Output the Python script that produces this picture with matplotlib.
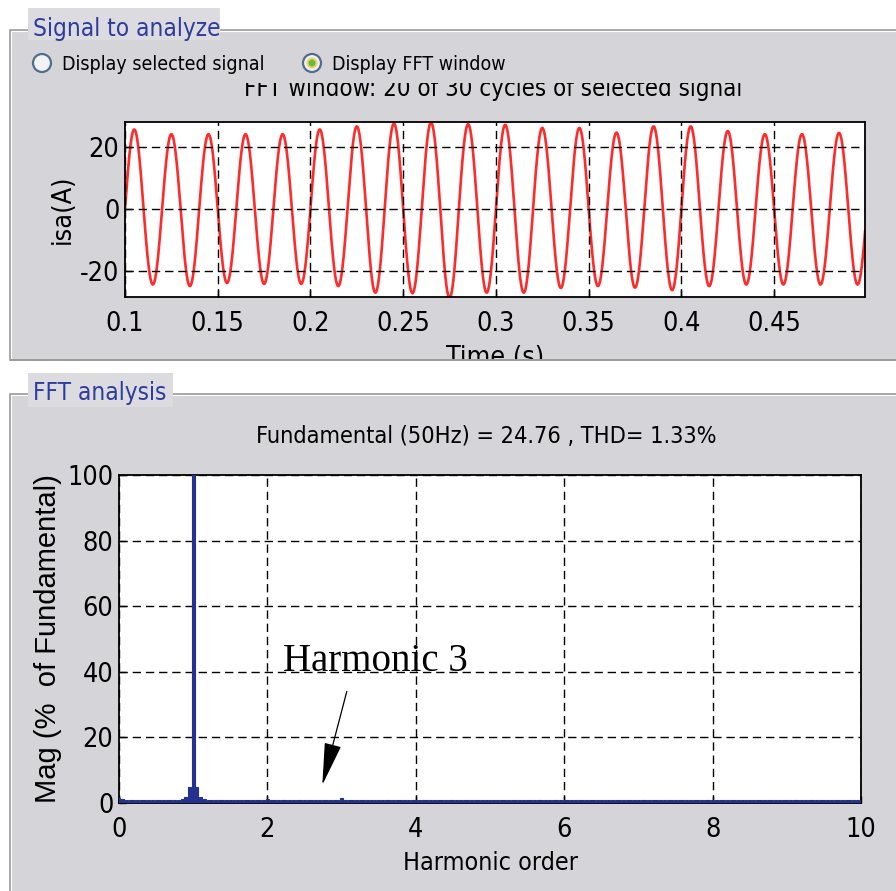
import numpy as np
import matplotlib
matplotlib.use("Agg")
import matplotlib.pyplot as plt
from matplotlib.patches import Rectangle, Circle
from matplotlib import font_manager as fm

# ---- data ----
f0 = 50.0
t_start, t_end = 0.1, 0.5
# per-cycle positive peaks and negative troughs of isa (A), 20 cycles
pos_peaks = [25.5, 24.0, 24.0, 24.0, 24.0, 25.5, 26.5, 27.4, 27.7, 27.2,
             27.0, 26.0, 26.0, 24.5, 26.5, 26.5, 25.0, 24.0, 24.0, 24.4]
neg_peaks = [-24.2, -24.7, -23.7, -24.0, -24.0, -24.7, -26.8, -27.0, -28.5, -26.8,
             -26.8, -25.3, -24.7, -25.2, -26.0, -24.7, -24.2, -24.2, -24.2, -24.2]
time_ticks = [0.1, 0.15, 0.2, 0.25, 0.3, 0.35, 0.4, 0.45]
isa_ticks = [-20, 0, 20]

# spectrum (% of fundamental), bins every 0.05 harmonic order
bin_step = 0.05
floor_mag = 0.8
peak_orders = [0.0, 0.05, 0.85, 0.9, 0.95, 1.0, 1.05, 1.1, 1.15, 2.0, 2.95, 3.0, 3.05]
peak_mags = [1.6, 1.1, 1.2, 1.9, 4.8, 100.0, 4.8, 1.9, 1.2, 1.1, 1.0, 1.6, 1.0]
harm_ticks = [0, 2, 4, 6, 8, 10]
mag_ticks = [0, 20, 40, 60, 80, 100]

title_top = "FFT window: 20 of 30 cycles of selected signal"
title_bot = "Fundamental (50Hz) = 24.76 , THD= 1.33%"

# ---- fonts: want a narrow Arial-like face ----
narrow_path = None
scale = 1.0
fonts = [f for f in fm.fontManager.ttflist if f.style == "normal" and f.weight in (400, "normal", "regular")]
for f in fonts:
    if f.name == "Liberation Sans Narrow":
        narrow_path = f.fname
        break
if narrow_path is None:
    for f in fonts:
        if f.name.startswith("DejaVu Sans") and ("Condensed" in f.name or str(f.stretch) in ("condensed", "semi-condensed")) and "Mono" not in f.name:
            narrow_path = f.fname
            scale = 0.92
            break
if narrow_path is None:
    narrow_path = fm.findfont(fm.FontProperties(family="Liberation Sans"))
    scale = 0.85


def nf(size):
    return fm.FontProperties(fname=narrow_path, size=size * scale)


# ---- figure ----
W, H = 896, 891
fig = plt.figure(figsize=(W / 100, H / 100), dpi=100, facecolor="white")
T = fig.dpi_scale_trans
SANS = ["Liberation Sans", "DejaVu Sans"]
GRAY = "#d5d5d9"
LIGHT = "#dcdce0"
BLUE = "#2d3d9c"


def P(x, y):
    return (x / 100, (H - y) / 100)


def rect(x0, y0, x1, y1, **kw):
    r = Rectangle(P(x0, y1), (x1 - x0) / 100, (y1 - y0) / 100, transform=T, **kw)
    fig.add_artist(r)
    return r


def ftext(x, y, s, **kw):
    return fig.text(*P(x, y), s, transform=T, **kw)


# group boxes
rect(10, 30, 900, 360, fc=GRAY, ec="#9c9c9c", lw=1.2, zorder=-2)
rect(11, 31, 900, 359, fc="none", ec="white", lw=0.8, zorder=-1)
rect(10, 394, 900, 900, fc=GRAY, ec="#9c9c9c", lw=1.2, zorder=-2)
rect(11, 395, 900, 900, fc="none", ec="white", lw=0.8, zorder=-1)

# ---- top axes ----
ax1 = fig.add_axes([125 / W, 1 - 297 / H, 740 / W, 175 / H])
t = np.linspace(t_start, t_end, 8001)
ph = np.sin(2 * np.pi * f0 * (t - t_start))
k = np.clip(((t - t_start) * f0).astype(int), 0, len(pos_peaks) - 1)
isa = np.where(ph >= 0, ph * np.array(pos_peaks)[k], -ph * np.array(neg_peaks)[k])
ax1.plot(t, isa, color="#ff2a2a", lw=1.9)
ax1.set_xlim(0.1, 0.499)
ax1.set_ylim(-28.2, 27.9)
ax1.set_xticks(time_ticks)
ax1.set_xticklabels([f"{v:g}" for v in time_ticks])
ax1.set_yticks(isa_ticks)
ax1.set_yticklabels([str(v) for v in isa_ticks])
ax1.set_ylabel("isa(A)", fontproperties=nf(21), labelpad=3)
ax1.set_xlabel("Time (s)", fontproperties=nf(21), labelpad=6)

# ---- bottom axes ----
ax2 = fig.add_axes([119 / W, 1 - 803 / H, 742 / W, 328 / H])
orders = np.round(np.arange(0, 10 + bin_step / 2, bin_step), 2)
mags = np.full(orders.shape, floor_mag)
for o, m in zip(peak_orders, peak_mags):
    mags[np.isclose(orders, o)] = m
ax2.bar(orders, mags, width=bin_step * 0.8, color="#24318f", edgecolor="#24318f", lw=0.8, zorder=3)
ax2.set_xlim(0, 10)
ax2.set_ylim(0, 100)
ax2.set_xticks(harm_ticks)
ax2.set_yticks(mag_ticks)
ax2.set_xlabel("Harmonic order", fontproperties=nf(19.5), labelpad=6)
ax2.set_ylabel("Mag (%  of Fundamental)", family=SANS, fontsize=21, labelpad=4)
ax2.annotate("", xy=(2.74, 5.5), xytext=(3.07, 34),
             arrowprops=dict(arrowstyle="-|>,head_length=1.5,head_width=0.3",
                             color="black", lw=0.9, mutation_scale=18, shrinkA=0, shrinkB=0),
             zorder=5)
ax2.text(3.46, 43, "Harmonic 3", family=["Liberation Serif", "DejaVu Serif"],
         fontsize=28, ha="center", va="center", zorder=5)

for ax in (ax1, ax2):
    ax.set_facecolor("white")
    ax.grid(True, color="black", ls=(0, (6, 3.5)), lw=1.0)
    ax.set_axisbelow(False)
    ax.tick_params(direction="in", length=5, width=1)
    ax.tick_params(axis="x", pad=10)
    ax.tick_params(axis="y", pad=4)
    for lab in ax.get_xticklabels() + ax.get_yticklabels():
        lab.set_fontproperties(nf(21))
    for sp in ax.spines.values():
        sp.set_linewidth(1.3)

# top title partly hidden by the radio-button row
ftext(493, 89, title_top, fontproperties=nf(18.7), ha="center", va="center", zorder=3)
rect(12, 46, 895, 83, fc=GRAY, ec="none", zorder=4)

# radio buttons
for cx, on in ((42, False), (312, True)):
    fig.add_artist(Circle(P(cx, 63), 0.09, transform=T, fc="#f2f2f4", ec="#4f6e8c", lw=1.6, zorder=5))
    if on:
        fig.add_artist(Circle(P(cx, 63), 0.055, transform=T, fc="#f3cf6a", ec="none", zorder=6))
        fig.add_artist(Circle(P(cx, 63), 0.035, transform=T, fc="#5cc23a", ec="none", zorder=7))
ftext(62, 65, "Display selected signal", fontproperties=nf(15.3), va="center", zorder=6)
ftext(332, 65, "Display FFT window", fontproperties=nf(15.3), va="center", zorder=6)

# mask the bottom of the top box (cuts the time label)
rect(0, 361, 900, 393, fc="white", ec="none", zorder=1)
rect(10, 359, 900, 361, fc="#9c9c9c", ec="none", zorder=2)
rect(10, 361, 900, 362, fc="white", ec="none", zorder=2)

# group titles
rect(28, 8, 220, 40, fc=LIGHT, ec="none", zorder=3)
ftext(33, 29, "Signal to analyze", fontproperties=nf(19), color=BLUE, va="center", zorder=4)
rect(28, 373, 173, 407, fc=LIGHT, ec="none", zorder=3)
ftext(33, 393, "FFT analysis", fontproperties=nf(19), color=BLUE, va="center", zorder=4)

ftext(486, 437, title_bot, fontproperties=nf(18.3), ha="center", va="center", zorder=3)

fig.savefig("out.png", dpi=100)
